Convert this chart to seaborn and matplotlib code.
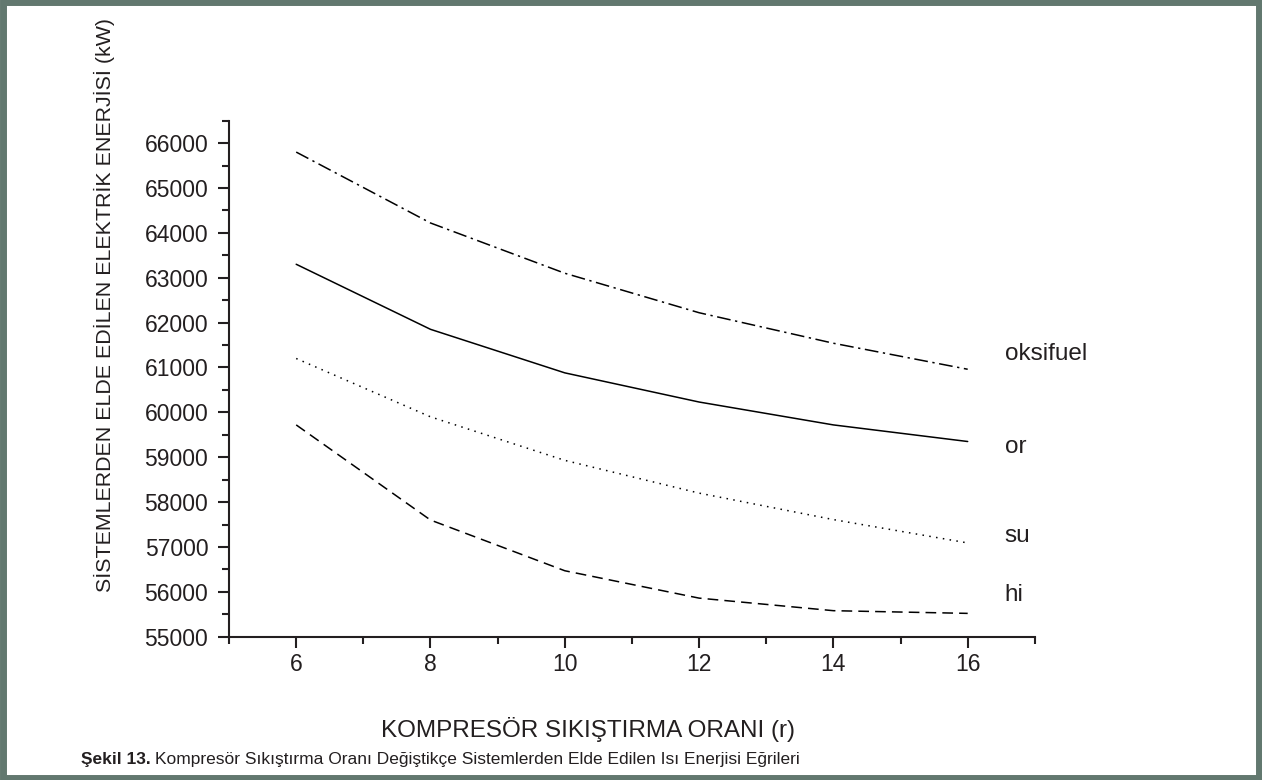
import matplotlib
matplotlib.use("Agg")
import matplotlib.pyplot as plt
from matplotlib.patches import Rectangle
from matplotlib.ticker import MultipleLocator
import pandas as pd
import seaborn as sns

# Data
r_values = [6, 8, 10, 12, 14, 16]
oksifuel = [65800, 64220, 63100, 62220, 61540, 60960]
orr = [63300, 61850, 60880, 60230, 59720, 59350]
su = [61200, 59900, 58930, 58200, 57610, 57090]
hi = [59720, 57600, 56470, 55860, 55580, 55520]

series_names = ["oksifuel", "or", "su", "hi"]
series_values = [oksifuel, orr, su, hi]

rows = []
for name, vals in zip(series_names, series_values):
    for r, v in zip(r_values, vals):
        rows.append({"r": r, "enerji": v, "sistem": name})
df = pd.DataFrame(rows)

sns.set_theme(style="white")
plt.rcParams["font.family"] = ["Liberation Sans", "DejaVu Sans"]
text_color = "#231f20"

fig = plt.figure(figsize=(12.62, 7.8), dpi=100)
ax = fig.add_axes([0.1815, 0.1837, 0.6385, 0.6616])

dash_map = {
    "oksifuel": (9, 3, 1.5, 3),
    "or": "",
    "su": (1, 3.5),
    "hi": (7, 4),
}
sns.lineplot(data=df, x="r", y="enerji", style="sistem", dashes=dash_map,
             color="black", linewidth=1.1, legend=False, ax=ax)

ax.set_xlim(5, 17)
ax.set_ylim(55000, 66500)
ax.xaxis.set_major_locator(MultipleLocator(2))
ax.xaxis.set_minor_locator(MultipleLocator(1))
ax.yaxis.set_major_locator(MultipleLocator(1000))
ax.yaxis.set_minor_locator(MultipleLocator(500))
ax.set_xticks([6, 8, 10, 12, 14, 16])

for side in ["top", "right"]:
    ax.spines[side].set_visible(False)
for side in ["left", "bottom"]:
    ax.spines[side].set_linewidth(1.5)
    ax.spines[side].set_color(text_color)

ax.tick_params(which="major", direction="out", length=8, width=1.5,
               color=text_color, labelsize=16.5, labelcolor=text_color,
               left=True, bottom=True)
ax.tick_params(axis="y", which="major", pad=7)
ax.tick_params(which="minor", direction="out", length=5, width=1.5,
               color=text_color, left=True, bottom=True)

ax.set_xlabel("KOMPRESÖR SIKIŞTIRMA ORANI (r)", fontsize=17.5,
              color=text_color)
ax.xaxis.set_label_coords(0.445, -0.155)
ax.set_ylabel("SİSTEMLERDEN ELDE EDİLEN ELEKTRİK ENERJİSİ (kW)", fontsize=15.4,
              color=text_color)
ax.yaxis.set_label_coords(-0.141, 0.643)

# curve names at the right end of each line
label_y = {"oksifuel": 61290, "or": 59230, "su": 57240, "hi": 55940}
for name in series_names:
    ax.text(16.55, label_y[name], name, fontsize=17.5, color=text_color,
            va="center", ha="left")

# caption: bold lead followed by normal text
cap_bold = fig.text(0.064, 0.017, "Şekil 13.", fontsize=12.5, fontweight="bold",
                    color=text_color, va="bottom")
fig.canvas.draw()
bb = cap_bold.get_window_extent(fig.canvas.get_renderer())
x_next = (bb.x1 + 4) / fig.bbox.width
fig.text(x_next, 0.017,
         "Kompresör Sıkıştırma Oranı Değiştikçe Sistemlerden Elde Edilen Isı Enerjisi Eğrileri",
         fontsize=12.5, color=text_color, va="bottom")

# outer frame
fig.patches.append(Rectangle((0.002, 0.003), 0.996, 0.994, transform=fig.transFigure,
                             fill=False, edgecolor="#62786f", linewidth=5))

fig.savefig("out.png", dpi=100)
